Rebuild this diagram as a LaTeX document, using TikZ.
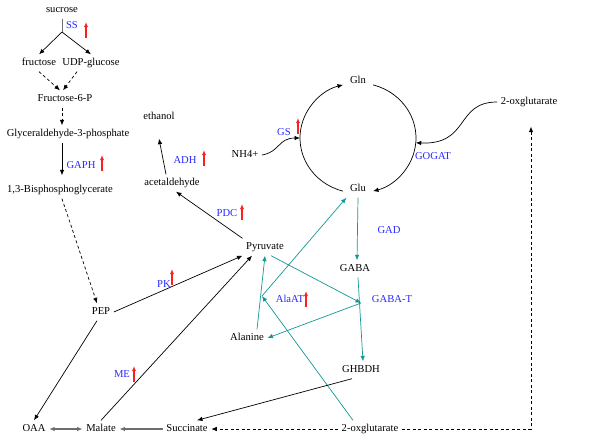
\documentclass[tikz,border=0pt]{standalone}
\usepackage{fontspec}
\setmainfont{Liberation Serif}
\usepackage{tikz}
\usetikzlibrary{arrows.meta}
\definecolor{tealline}{RGB}{20,150,150}
\definecolor{greyline}{RGB}{110,110,110}
\definecolor{enzblue}{RGB}{40,40,255}
\definecolor{upred}{RGB}{255,30,30}

\begin{document}
\begin{tikzpicture}[x=1pt, y=1pt, >={Latex[length=5.5pt,width=4.5pt]}, line width=0.7pt,
  font=\fontsize{10.6}{12}\selectfont,
  every node/.style={text height=7.5pt, text depth=2.5pt},
  enz/.style={text=enzblue},
  redup/.style={-{Latex[length=5pt,width=4pt]}, upred, line width=1.1pt},
  dashline/.style={dash pattern=on 3pt off 2.5pt},
  greyarrow/.style={greyline, line width=1.2pt},
  gabaline/.style={->, tealline}]
\useasboundingbox (0,0) rectangle (600,-440);
% metabolites and enzymes
\node (suc) [] at (62,-10) {sucrose};
\node (ss) [enz] at (72,-26) {SS};
\node (fru) [] at (39,-63) {fructose};
\node (udp) [] at (91,-63) {UDP-glucose};
\node (f6p) [] at (65,-99) {Fructose-6-P};
\node (g3p) [] at (68,-134) {Glyceraldehyde-3-phosphate};
\node (gaph) [enz] at (81,-166) {GAPH};
\node (bpg) [] at (60,-190) {1,3-Bisphosphoglycerate};
\node (pep) [] at (101,-312) {PEP};
\node (pk) [enz] at (164,-285) {PK};
\node (pyr) [] at (265,-247) {Pyruvate};
\node (oaa) [] at (34,-429) {OAA};
\node (mal) [] at (101,-429) {Malate};
\node (me) [enz] at (122,-375) {ME};
\node (succ) [] at (187,-429) {Succinate};
\node (oxga) [] at (370,-429) {2-oxglutarate};
\node (oxgb) [] at (529,-102) {2-oxglutarate};
\node (eth) [] at (159,-117) {ethanol};
\node (acet) [] at (172,-183) {acetaldehyde};
\node (adh) [enz] at (185,-161) {ADH};
\node (pdc) [enz] at (227,-214) {PDC};
\node (gln) [] at (358,-81) {Gln};
\node (glu) [] at (358,-189) {Glu};
\node (gs) [enz] at (284,-133) {GS};
\node (nh) [] at (245,-155) {NH4+};
\node (gogat) [enz] at (433,-157) {GOGAT};
\node (gad) [enz] at (389,-231) {GAD};
\node (gaba) [] at (355,-269) {GABA};
\node (gabat) [enz] at (392,-300) {GABA-T};
\node (ghbdh) [] at (361,-370) {GHBDH};
\node (alan) [] at (247,-338) {Alanine};
\node (alaat) [enz] at (290,-300) {AlaAT};
% up-regulated
\foreach \x/\y in {86/38, 102/171, 172/285, 134/382, 204/166, 242/220, 298/134, 306/307} {
  \draw [redup] (\x,-\y) -- ++(0,16);
}
% glycolysis
\coordinate (br) at (62,-32);
\draw [greyline] (suc) -- (br);
\draw [->] (br) -- (fru.north);
\draw [->] (br) -- (udp.north);
\draw [->,dashline] (fru.south) -- ([xshift=-5pt]f6p.north);
\draw [->,dashline] ([xshift=-14pt]udp.south) -- ([xshift=-2pt]f6p.north);
\draw [->,dashline] ([xshift=-3pt]f6p.south) -- ([xshift=-6pt]g3p.north);
\draw [->] ([xshift=-6pt]g3p.south) -- ([xshift=2pt,yshift=6pt]bpg.north);
\draw [->,dashline] ([xshift=2pt]bpg.south) -- ([xshift=-4pt]pep.north);
\draw [->] (pep.east) -- (pyr.south west);
\draw [->] (mal.north) -- ([xshift=-13pt]pyr.south);
\draw [->] ([xshift=-4pt]pep.south) -- (oaa.north);
\draw [<->,greyarrow] (oaa) -- (mal);
\draw [->,greyarrow] (succ) -- (mal);
\draw [->,dashline] (oxga) -- (succ);
\draw [->,dashline] (oxga.east) -| ([xshift=2pt,yshift=-16pt]oxgb.south);
% fermentation
\draw [->] (pyr.north west) -- ([xshift=4pt]acet.south);
\draw [->] ([xshift=-6pt]acet.north) -- ([yshift=-13pt]eth.south);
% GS/GOGAT cycle
\coordinate (cyc) at (358,-138);
\draw [->] ([shift={(255:58 and 55)}]cyc) arc [start angle=255, end angle=105, x radius=58, y radius=55];
\draw [->] ([shift={(75:58 and 55)}]cyc) arc [start angle=75, end angle=-75, x radius=58, y radius=55];
\draw [->] (nh.east) .. controls (280,-152) and (278,-138) .. ([shift={(180:58 and 55)}]cyc);
\draw [->] (oxgb.west) .. controls (455,-102) and (470,-145) .. ([shift={(-5:58 and 55)}]cyc);
% GABA shunt
\coordinate (gt) at (361,-303);
\coordinate (jn) at (262,-296);
\draw [gabaline] (glu.south) -- ([xshift=2pt]gaba.north);
\draw [gabaline] ([xshift=3pt]gaba.south) -- ([xshift=2pt]ghbdh.north);
\draw [gabaline] ([xshift=6pt]pyr.south) -- (gt);
\draw [gabaline] (gt) -- (alan.east);
\draw [gabaline] ([xshift=10pt]alan.north) -- (pyr.south);
\draw [gabaline] ([xshift=-17pt]oxga.north) -- (jn);
\draw [gabaline] (jn) -- (glu.south west);
\draw [->] ([xshift=-9pt]ghbdh.south) -- ([xshift=10pt]succ.north);
\end{tikzpicture}
\end{document}
